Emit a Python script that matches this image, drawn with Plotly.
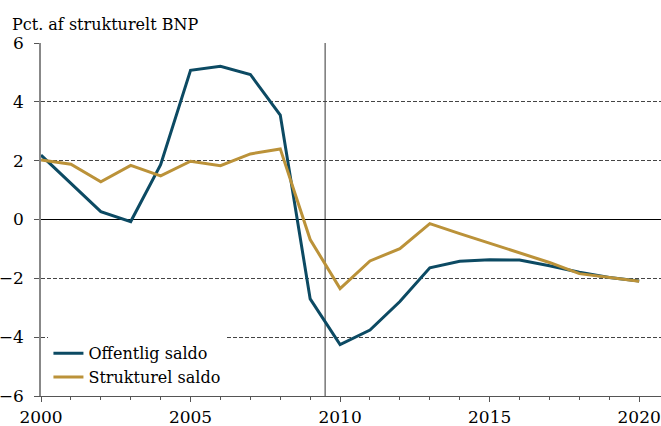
import plotly.graph_objects as go

years = list(range(2000, 2021))
offentlig_saldo = [2.19, 1.23, 0.27, -0.07, 1.86, 5.07, 5.21, 4.93, 3.55, -2.70,
                   -4.25, -3.76, -2.79, -1.64, -1.42, -1.37, -1.38, -1.57, -1.79, -1.97, -2.09]
strukturel_saldo = [2.02, 1.88, 1.28, 1.84, 1.48, 1.98, 1.83, 2.23, 2.40, -0.68,
                    -2.35, -1.41, -0.99, -0.14, -0.48, -0.80, -1.13, -1.46, -1.84, -1.98, -2.10]
y_ticks = [-6, -4, -2, 0, 2, 4, 6]
x_ticks = [2000, 2005, 2010, 2015, 2020]
forecast_start = 2009.5

FONT = "DejaVu Serif"
fig = go.Figure()
fig.add_trace(go.Scatter(x=years, y=offentlig_saldo, mode="lines", name="Offentlig saldo",
                         line=dict(color="#0c4a63", width=3)))
fig.add_trace(go.Scatter(x=years, y=strukturel_saldo, mode="lines", name="Strukturel saldo",
                         line=dict(color="#bb9239", width=3)))

fig.add_shape(type="line", xref="x", yref="paper", x0=forecast_start, x1=forecast_start,
              y0=0, y1=1, line=dict(color="#555555", width=1.2), layer="below")

fig.update_layout(
    width=661, height=426,
    margin=dict(l=41, r=0, t=43, b=30),
    paper_bgcolor="white", plot_bgcolor="white",
    font=dict(family=FONT, size=16, color="black"),
    showlegend=True,
    legend=dict(x=0.012, y=0.005, xanchor="left", yanchor="bottom",
                bgcolor="white", font=dict(family=FONT, size=16, color="black"),
                tracegroupgap=0, itemwidth=30),
    annotations=[dict(text="Pct. af strukturelt BNP", xref="paper", yref="paper",
                      x=-0.05, y=1.0, xanchor="left", yanchor="bottom", yshift=7,
                      showarrow=False, font=dict(family=FONT, size=16, color="black"))],
)
fig.update_xaxes(range=[2000, 2020.73], tickvals=x_ticks, ticks="outside", ticklen=5,
                 tickcolor="#555555", showline=True, linecolor="#555555", linewidth=1.2,
                 showgrid=False, zeroline=False, automargin=False, ticklabelstandoff=0,
                 minor=dict(dtick=1, ticks="outside", ticklen=3, tickcolor="#555555", showgrid=False),
                 tickfont=dict(family=FONT, size=17, color="black"))
fig.update_yaxes(range=[-6, 6], tickvals=y_ticks, ticks="outside", ticklen=5,
                 tickcolor="#555555", showline=True, linecolor="#888888", linewidth=1.5,
                 showgrid=True, gridcolor="#444444", gridwidth=1, griddash="4px,2px",
                 zeroline=True, zerolinecolor="black", zerolinewidth=1.2,
                 ticklabelstandoff=7, automargin=False,
                 tickfont=dict(family=FONT, size=17, color="black"))

fig.write_html("out.html", config={"displayModeBar": False},
               post_script="document.body.style.margin='0';document.body.style.overflow='hidden';")
